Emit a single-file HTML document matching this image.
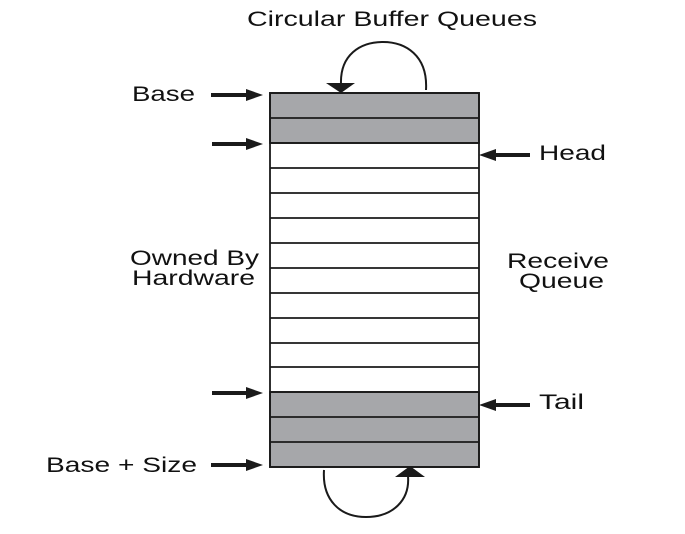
<!DOCTYPE html>
<html><head><style>html,body{margin:0;padding:0;background:#fff}svg{display:block}</style></head>
<body>
<svg width="685" height="534" viewBox="0 0 685 534" xmlns="http://www.w3.org/2000/svg" font-family="Liberation Sans, sans-serif" font-size="22" fill="#111">
<g stroke="#1a1a1a" stroke-width="1.8">
<rect x="270" y="93" width="209" height="50" fill="#a6a7aa"/>
<rect x="270" y="392" width="209" height="75" fill="#a6a7aa"/>
<rect x="270" y="93" width="209" height="374" fill="none"/>
<line x1="270" y1="118" x2="479" y2="118"/>
<line x1="270" y1="143" x2="479" y2="143"/>
<line x1="270" y1="168" x2="479" y2="168"/>
<line x1="270" y1="193" x2="479" y2="193"/>
<line x1="270" y1="218" x2="479" y2="218"/>
<line x1="270" y1="243" x2="479" y2="243"/>
<line x1="270" y1="268" x2="479" y2="268"/>
<line x1="270" y1="293" x2="479" y2="293"/>
<line x1="270" y1="318" x2="479" y2="318"/>
<line x1="270" y1="343" x2="479" y2="343"/>
<line x1="270" y1="367" x2="479" y2="367"/>
<line x1="270" y1="392" x2="479" y2="392"/>
<line x1="270" y1="417" x2="479" y2="417"/>
<line x1="270" y1="442" x2="479" y2="442"/>
</g>
<g stroke="#1a1a1a" stroke-width="2" fill="none">
<path d="M426 90 C428 55 405 42 383 42 C360 42 340 55 341 84"/>
<path d="M324 470 C322 500 340 517 366 517 C393 517 410 500 408 476"/>
</g>
<g fill="#1a1a1a">
<polygon points="326,83 355,83 341,93"/>
<polygon points="395,477 425,477 410,466"/>
</g>
<g stroke="#1a1a1a" stroke-width="4">
<line x1="211" y1="95" x2="250" y2="95"/>
<line x1="212" y1="144" x2="250" y2="144"/>
<line x1="212" y1="393" x2="250" y2="393"/>
<line x1="211" y1="465" x2="250" y2="465"/>
<line x1="492" y1="155" x2="530" y2="155"/>
<line x1="492" y1="405" x2="530" y2="405"/>
</g>
<g fill="#1a1a1a">
<polygon points="246,89 263,95 246,101"/>
<polygon points="246,138 263,144 246,150"/>
<polygon points="246,387 263,393 246,399"/>
<polygon points="246,459 263,465 246,471"/>
<polygon points="496,149 479,155 496,161"/>
<polygon points="496,399 479,405 496,411"/>
</g>
<g font-size="21">
<text x="247" y="26" textLength="290" lengthAdjust="spacingAndGlyphs">Circular Buffer Queues</text>
<text x="132" y="101" textLength="63" lengthAdjust="spacingAndGlyphs">Base</text>
<text x="539" y="160" textLength="67" lengthAdjust="spacingAndGlyphs">Head</text>
<text x="130" y="265" textLength="129" lengthAdjust="spacingAndGlyphs">Owned By</text>
<text x="132" y="285" textLength="123" lengthAdjust="spacingAndGlyphs">Hardware</text>
<text x="507" y="268" textLength="102" lengthAdjust="spacingAndGlyphs">Receive</text>
<text x="519" y="288" textLength="85" lengthAdjust="spacingAndGlyphs">Queue</text>
<text x="539" y="409" textLength="45" lengthAdjust="spacingAndGlyphs">Tail</text>
<text x="46" y="472" textLength="151" lengthAdjust="spacingAndGlyphs">Base + Size</text>
</g>
</svg>
</body></html>
